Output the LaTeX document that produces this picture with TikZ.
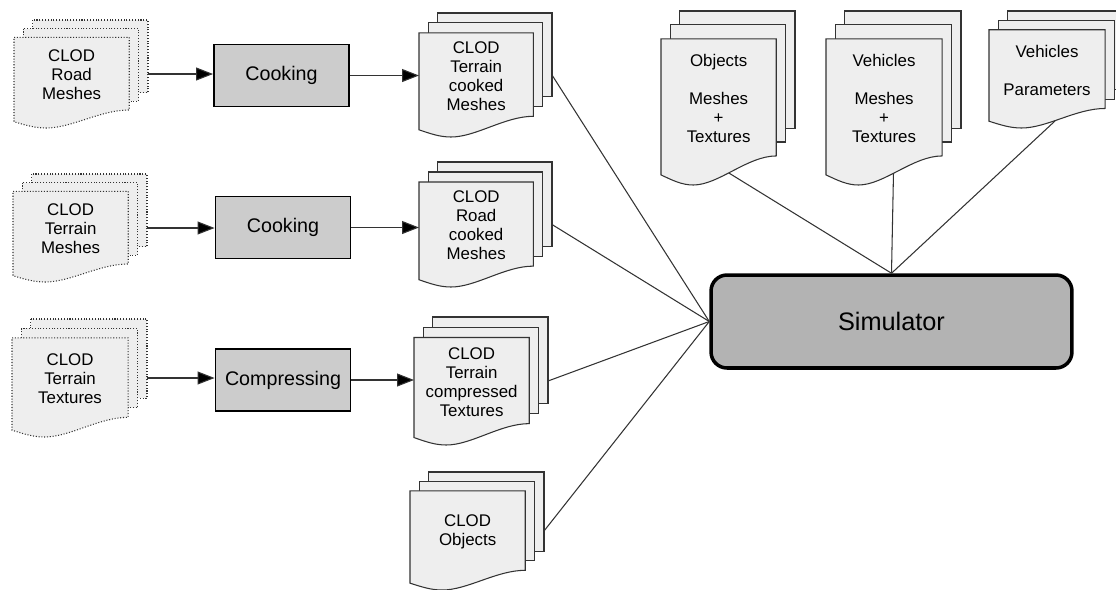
\documentclass[tikz,border=0pt]{standalone}
\usepackage{fontspec}
\setmainfont{Liberation Sans}
\usetikzlibrary{arrows.meta}

\definecolor{docfill}{HTML}{EEEEEE}
\definecolor{boxfill}{HTML}{CCCCCC}
\definecolor{simfill}{HTML}{B3B3B3}
\definecolor{edge}{HTML}{333333}

\tikzset{
  page/.style={draw=edge, fill=docfill, line width=0.6pt},
  dotpage/.style={page, densely dotted},
  doctext/.style={font=\fontsize{9.6}{10.8}\selectfont, align=center, inner sep=0pt},
  docarea/.style={draw=none, inner sep=0pt, outer sep=0pt},
}

% stack of three pages: name, left, top, width, height (px), page style, text
\newcommand{\docstack}[7]{%
  \pgfmathsetmacro{\sdx}{0.07*#4}%
  \pgfmathsetmacro{\sdy}{0.08*#5}%
  \pgfmathsetmacro{\sfw}{#4-2*\sdx}%
  \pgfmathsetmacro{\sbot}{#3+0.833*#5}%
  \pgfmathsetmacro{\swv}{#3+#5}%
  \draw[#6] (#2+2*\sdx,#3) rectangle (#2+#4,\sbot-2*\sdy);
  \draw[#6] (#2+\sdx,#3+\sdy) rectangle (#2+#4-\sdx,\sbot-\sdy);
  \draw[#6] (#2,#3+2*\sdy) -- (#2+\sfw,#3+2*\sdy) -- (#2+\sfw,\sbot)
    .. controls (#2+0.75*\sfw,\sbot) and (#2+0.5*\sfw,\swv) .. (#2+0.28*\sfw,\swv)
    .. controls (#2+0.18*\sfw,\swv) and (#2+0.1*\sfw,\swv-0.027*#5) .. (#2,\swv-0.058*#5) -- cycle;
  \node[docarea, minimum width={#4*0.02cm}, minimum height={#5*0.02cm}] (#1) at ({#2+#4/2},{#3+#5/2}) {};
  \node[inner sep=0pt] (#1-foot) at ({#2+#4/2},{\sbot+0.095*#5}) {};
  \node[doctext] (#1-label) at ({#2+\sfw/2},{(#3+2*\sdy+\sbot)/2+1.5}) {#7};
}

\begin{document}
\begin{tikzpicture}[
  x=0.02cm, y=-0.02cm,
  proc/.style={draw=black, fill=boxfill, line width=1.1pt, minimum width=2.7cm, minimum height=1.24cm, font=\fontsize{11.2}{13}\selectfont},
  link/.style={draw=edge, line width=0.6pt},
  >={Triangle[length=3.4mm,width=2.6mm,fill=black]}
]
\useasboundingbox (0,0) rectangle (1116,589);

% raw data
\docstack{rmesh}{14}{20}{134}{108}{dotpage}{CLOD\\Road\\Meshes}
\docstack{tmesh}{13}{174}{134}{108}{dotpage}{CLOD\\Terrain\\Meshes}
\docstack{ttex}{12}{319}{135}{118}{dotpage}{CLOD\\Terrain\\Textures}

% processed data
\docstack{tcmesh}{419}{13}{133}{124}{page}{CLOD\\Terrain\\cooked\\Meshes}
\docstack{rcmesh}{419}{162}{133}{125}{page}{CLOD\\Road\\cooked\\Meshes}
\docstack{tctex}{414}{317}{134}{128}{page}{CLOD\\Terrain\\compressed\\Textures}
\docstack{cobj}{410}{472}{134}{118}{page}{CLOD\\Objects}

% other inputs
\docstack{omesh}{661}{11}{134}{174}{page}{Objects\\[10.8pt]Meshes\\+\\Textures}
\docstack{vmesh}{826}{11}{135}{174}{page}{Vehicles\\[10.8pt]Meshes\\+\\Textures}
\docstack{vparam}{989}{11}{135}{117}{page}{Vehicles\\[10.8pt]Parameters}

\node[proc] (cook1) at (281.5,75.5) {Cooking};
\node[proc] (cook2) at (283,227.5) {Cooking};
\node[proc] (comp) at (283,380) {Compressing};

\node[draw=black, fill=simfill, line width=2pt, rounded corners=0.32cm, minimum width=7.22cm, minimum height=1.86cm, font=\fontsize{14.4}{17}\selectfont] (sim) at (891.5,321.5) {Simulator};

\draw[link,->] (rmesh.east) -- (rmesh.east -| cook1.west);
\draw[link,->] (tmesh.east) -- (tmesh.east -| cook2.west);
\draw[link,->] (ttex.east) -- (ttex.east -| comp.west);
\draw[link,->] (cook1.east) -- (cook1.east -| tcmesh.west);
\draw[link,->] (cook2.east) -- (cook2.east -| rcmesh.west);
\draw[link,->] (comp.east) -- (comp.east -| tctex.west);

\draw[link] (tcmesh.east) -- (sim.west);
\draw[link] (rcmesh.east) -- (sim.west);
\draw[link] (tctex.east) -- (sim.west);
\draw[link] (cobj.east) -- (sim.west);
\draw[link] (omesh-foot) -- (sim.north);
\draw[link] (vmesh-foot) -- (sim.north);
\draw[link] (vparam-foot) -- (sim.north);
\end{tikzpicture}
\end{document}
